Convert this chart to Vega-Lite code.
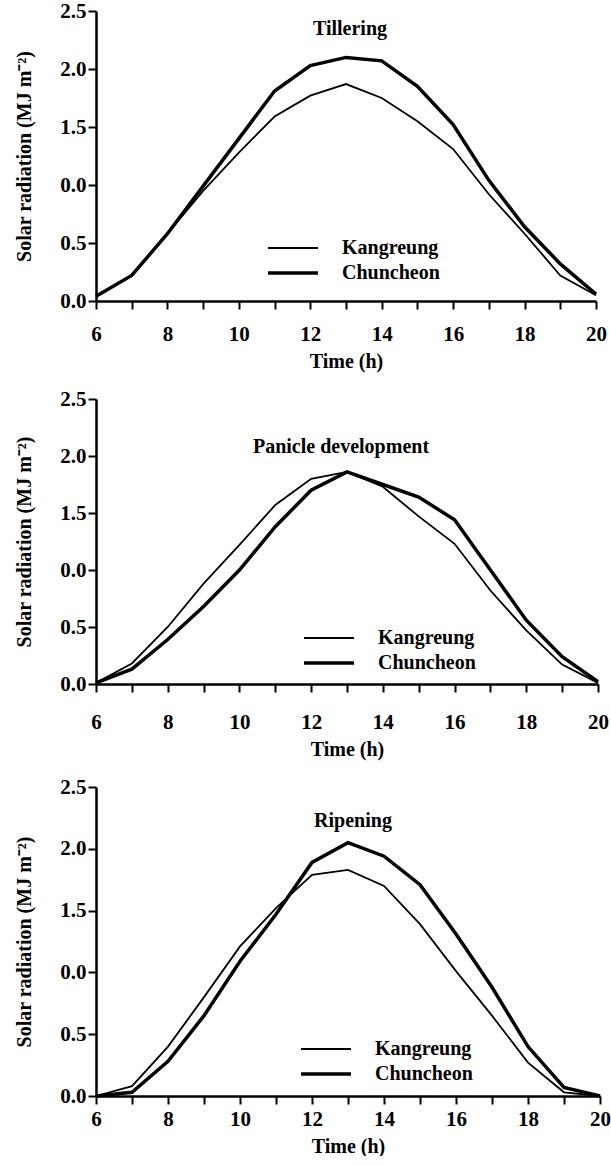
{
  "$schema": "https://vega.github.io/schema/vega-lite/v6.json",
  "background": "white",
  "padding": {"left": 14, "top": 0, "right": 4, "bottom": 0},
  "spacing": 17,
  "resolve": {"scale": {"strokeWidth": "independent"}, "legend": {"strokeWidth": "independent"}},
  "config": {
    "view": {"stroke": null},
    "font": "Liberation Serif",
    "axis": {
      "grid": false,
      "domainColor": "black",
      "domainWidth": 2.5,
      "tickColor": "black",
      "tickWidth": 2,
      "tickSize": 8,
      "labelColor": "black",
      "labelFont": "Liberation Serif",
      "labelFontSize": 21,
      "labelFontWeight": "bold",
      "titleColor": "black",
      "titleFont": "Liberation Serif",
      "titleFontSize": 20,
      "titleFontWeight": "bold",
      "labelFlush": false,
      "labelOverlap": false,
      "labelBound": false
    },
    "axisX": {"titlePadding": 7},
    "axisY": {"labelPadding": 2, "titlePadding": 25},
    "title": {"font": "Liberation Serif", "fontSize": 20, "fontWeight": "bold", "color": "black", "anchor": "middle", "baseline": "top"},
    "legend": {
      "orient": "none",
      "title": null,
      "symbolType": "M-5,0H5",
      "symbolSize": 100,
      "symbolStrokeColor": "black",
      "labelFont": "Liberation Serif",
      "labelFontSize": 20,
      "labelFontWeight": "bold",
      "labelColor": "black",
      "labelOffset": 39,
      "rowPadding": 5,
      "padding": 0
    }
  },
  "datasets": {
    "rad": [
      {"stage": "Tillering", "site": "Kangreung", "time": 6, "value": 0.04},
      {"stage": "Tillering", "site": "Kangreung", "time": 7, "value": 0.22},
      {"stage": "Tillering", "site": "Kangreung", "time": 8, "value": 0.58},
      {"stage": "Tillering", "site": "Kangreung", "time": 9, "value": 0.95},
      {"stage": "Tillering", "site": "Kangreung", "time": 10, "value": 1.28},
      {"stage": "Tillering", "site": "Kangreung", "time": 11, "value": 1.59},
      {"stage": "Tillering", "site": "Kangreung", "time": 12, "value": 1.77},
      {"stage": "Tillering", "site": "Kangreung", "time": 13, "value": 1.87},
      {"stage": "Tillering", "site": "Kangreung", "time": 14, "value": 1.75},
      {"stage": "Tillering", "site": "Kangreung", "time": 15, "value": 1.55},
      {"stage": "Tillering", "site": "Kangreung", "time": 16, "value": 1.31},
      {"stage": "Tillering", "site": "Kangreung", "time": 17, "value": 0.92},
      {"stage": "Tillering", "site": "Kangreung", "time": 18, "value": 0.58},
      {"stage": "Tillering", "site": "Kangreung", "time": 19, "value": 0.22},
      {"stage": "Tillering", "site": "Kangreung", "time": 20, "value": 0.05},
      {"stage": "Tillering", "site": "Chuncheon", "time": 6, "value": 0.04},
      {"stage": "Tillering", "site": "Chuncheon", "time": 7, "value": 0.22},
      {"stage": "Tillering", "site": "Chuncheon", "time": 8, "value": 0.58},
      {"stage": "Tillering", "site": "Chuncheon", "time": 9, "value": 0.99},
      {"stage": "Tillering", "site": "Chuncheon", "time": 10, "value": 1.40},
      {"stage": "Tillering", "site": "Chuncheon", "time": 11, "value": 1.81},
      {"stage": "Tillering", "site": "Chuncheon", "time": 12, "value": 2.03},
      {"stage": "Tillering", "site": "Chuncheon", "time": 13, "value": 2.10},
      {"stage": "Tillering", "site": "Chuncheon", "time": 14, "value": 2.07},
      {"stage": "Tillering", "site": "Chuncheon", "time": 15, "value": 1.85},
      {"stage": "Tillering", "site": "Chuncheon", "time": 16, "value": 1.52},
      {"stage": "Tillering", "site": "Chuncheon", "time": 17, "value": 1.04},
      {"stage": "Tillering", "site": "Chuncheon", "time": 18, "value": 0.64},
      {"stage": "Tillering", "site": "Chuncheon", "time": 19, "value": 0.32},
      {"stage": "Tillering", "site": "Chuncheon", "time": 20, "value": 0.06},
      {"stage": "Panicle development", "site": "Kangreung", "time": 6, "value": 0.01},
      {"stage": "Panicle development", "site": "Kangreung", "time": 7, "value": 0.18},
      {"stage": "Panicle development", "site": "Kangreung", "time": 8, "value": 0.50},
      {"stage": "Panicle development", "site": "Kangreung", "time": 9, "value": 0.88},
      {"stage": "Panicle development", "site": "Kangreung", "time": 10, "value": 1.22},
      {"stage": "Panicle development", "site": "Kangreung", "time": 11, "value": 1.57},
      {"stage": "Panicle development", "site": "Kangreung", "time": 12, "value": 1.80},
      {"stage": "Panicle development", "site": "Kangreung", "time": 13, "value": 1.86},
      {"stage": "Panicle development", "site": "Kangreung", "time": 14, "value": 1.73},
      {"stage": "Panicle development", "site": "Kangreung", "time": 15, "value": 1.47},
      {"stage": "Panicle development", "site": "Kangreung", "time": 16, "value": 1.23},
      {"stage": "Panicle development", "site": "Kangreung", "time": 17, "value": 0.82},
      {"stage": "Panicle development", "site": "Kangreung", "time": 18, "value": 0.47},
      {"stage": "Panicle development", "site": "Kangreung", "time": 19, "value": 0.17},
      {"stage": "Panicle development", "site": "Kangreung", "time": 20, "value": 0.01},
      {"stage": "Panicle development", "site": "Chuncheon", "time": 6, "value": 0.01},
      {"stage": "Panicle development", "site": "Chuncheon", "time": 7, "value": 0.13},
      {"stage": "Panicle development", "site": "Chuncheon", "time": 8, "value": 0.39},
      {"stage": "Panicle development", "site": "Chuncheon", "time": 9, "value": 0.68},
      {"stage": "Panicle development", "site": "Chuncheon", "time": 10, "value": 1.00},
      {"stage": "Panicle development", "site": "Chuncheon", "time": 11, "value": 1.38},
      {"stage": "Panicle development", "site": "Chuncheon", "time": 12, "value": 1.70},
      {"stage": "Panicle development", "site": "Chuncheon", "time": 13, "value": 1.86},
      {"stage": "Panicle development", "site": "Chuncheon", "time": 14, "value": 1.75},
      {"stage": "Panicle development", "site": "Chuncheon", "time": 15, "value": 1.64},
      {"stage": "Panicle development", "site": "Chuncheon", "time": 16, "value": 1.44},
      {"stage": "Panicle development", "site": "Chuncheon", "time": 17, "value": 1.00},
      {"stage": "Panicle development", "site": "Chuncheon", "time": 18, "value": 0.56},
      {"stage": "Panicle development", "site": "Chuncheon", "time": 19, "value": 0.24},
      {"stage": "Panicle development", "site": "Chuncheon", "time": 20, "value": 0.02},
      {"stage": "Ripening", "site": "Kangreung", "time": 6, "value": 0.0},
      {"stage": "Ripening", "site": "Kangreung", "time": 7, "value": 0.08},
      {"stage": "Ripening", "site": "Kangreung", "time": 8, "value": 0.40},
      {"stage": "Ripening", "site": "Kangreung", "time": 9, "value": 0.80},
      {"stage": "Ripening", "site": "Kangreung", "time": 10, "value": 1.21},
      {"stage": "Ripening", "site": "Kangreung", "time": 11, "value": 1.52},
      {"stage": "Ripening", "site": "Kangreung", "time": 12, "value": 1.79},
      {"stage": "Ripening", "site": "Kangreung", "time": 13, "value": 1.83},
      {"stage": "Ripening", "site": "Kangreung", "time": 14, "value": 1.70},
      {"stage": "Ripening", "site": "Kangreung", "time": 15, "value": 1.39},
      {"stage": "Ripening", "site": "Kangreung", "time": 16, "value": 1.01},
      {"stage": "Ripening", "site": "Kangreung", "time": 17, "value": 0.65},
      {"stage": "Ripening", "site": "Kangreung", "time": 18, "value": 0.27},
      {"stage": "Ripening", "site": "Kangreung", "time": 19, "value": 0.03},
      {"stage": "Ripening", "site": "Kangreung", "time": 20, "value": 0.0},
      {"stage": "Ripening", "site": "Chuncheon", "time": 6, "value": 0.0},
      {"stage": "Ripening", "site": "Chuncheon", "time": 7, "value": 0.03},
      {"stage": "Ripening", "site": "Chuncheon", "time": 8, "value": 0.28},
      {"stage": "Ripening", "site": "Chuncheon", "time": 9, "value": 0.65},
      {"stage": "Ripening", "site": "Chuncheon", "time": 10, "value": 1.09},
      {"stage": "Ripening", "site": "Chuncheon", "time": 11, "value": 1.47},
      {"stage": "Ripening", "site": "Chuncheon", "time": 12, "value": 1.89},
      {"stage": "Ripening", "site": "Chuncheon", "time": 13, "value": 2.05},
      {"stage": "Ripening", "site": "Chuncheon", "time": 14, "value": 1.94},
      {"stage": "Ripening", "site": "Chuncheon", "time": 15, "value": 1.71},
      {"stage": "Ripening", "site": "Chuncheon", "time": 16, "value": 1.31},
      {"stage": "Ripening", "site": "Chuncheon", "time": 17, "value": 0.88},
      {"stage": "Ripening", "site": "Chuncheon", "time": 18, "value": 0.40},
      {"stage": "Ripening", "site": "Chuncheon", "time": 19, "value": 0.07},
      {"stage": "Ripening", "site": "Chuncheon", "time": 20, "value": 0.0}
    ]
  },
  "vconcat": [
    {
      "width": 500,
      "height": 290,
      "title": {"text": "Tillering", "offset": -39, "dx": 4},
      "data": {"name": "rad"},
      "transform": [{"filter": "datum.stage == 'Tillering'"}],
      "mark": {"type": "line", "color": "black"},
      "encoding": {
        "x": {"field": "time", "type": "quantitative", "scale": {"domain": [6, 20], "nice": false, "zero": false},
              "axis": {"title": "Time (h)", "values": [6,7,8,9,10,11,12,13,14,15,16,17,18,19,20], "labelExpr": "datum.value % 2 == 0 ? datum.label : ''", "labelPadding": 14}},
        "y": {"field": "value", "type": "quantitative", "scale": {"domain": [0, 2.5], "nice": false},
              "axis": {"title": "Solar radiation (MJ m⁻²)", "values": [0, 0.5, 1, 1.5, 2, 2.5], "labelExpr": "datum.value == 1 ? '0.0' : format(datum.value, '.1f')"}},
        "strokeWidth": {"field": "site", "type": "nominal", "scale": {"domain": ["Kangreung", "Chuncheon"], "range": [1.8, 3.5]},
                        "legend": {"legendX": 187, "legendY": 227}}
      }
    },
    {
      "width": 502,
      "height": 285,
      "title": {"text": "Panicle development", "offset": -69, "dx": -6},
      "data": {"name": "rad"},
      "transform": [{"filter": "datum.stage == 'Panicle development'"}],
      "mark": {"type": "line", "color": "black"},
      "encoding": {
        "x": {"field": "time", "type": "quantitative", "scale": {"domain": [6, 20], "nice": false, "zero": false},
              "axis": {"title": "Time (h)", "values": [6,7,8,9,10,11,12,13,14,15,16,17,18,19,20], "labelExpr": "datum.value % 2 == 0 ? datum.label : ''", "labelPadding": 19}},
        "y": {"field": "value", "type": "quantitative", "scale": {"domain": [0, 2.5], "nice": false},
              "axis": {"title": "Solar radiation (MJ m⁻²)", "values": [0, 0.5, 1, 1.5, 2, 2.5], "labelExpr": "datum.value == 1 ? '0.0' : format(datum.value, '.1f')"}},
        "strokeWidth": {"field": "site", "type": "nominal", "scale": {"domain": ["Kangreung", "Chuncheon"], "range": [1.8, 3.5]},
                        "legend": {"legendX": 223, "legendY": 229}}
      }
    },
    {
      "width": 504,
      "height": 309,
      "title": {"text": "Ripening", "offset": -55, "dx": 5},
      "data": {"name": "rad"},
      "transform": [{"filter": "datum.stage == 'Ripening'"}],
      "mark": {"type": "line", "color": "black"},
      "encoding": {
        "x": {"field": "time", "type": "quantitative", "scale": {"domain": [6, 20], "nice": false, "zero": false},
              "axis": {"title": "Time (h)", "values": [6,7,8,9,10,11,12,13,14,15,16,17,18,19,20], "labelExpr": "datum.value % 2 == 0 ? datum.label : ''", "labelPadding": 4}},
        "y": {"field": "value", "type": "quantitative", "scale": {"domain": [0, 2.5], "nice": false},
              "axis": {"title": "Solar radiation (MJ m⁻²)", "values": [0, 0.5, 1, 1.5, 2, 2.5], "labelExpr": "datum.value == 1 ? '0.0' : format(datum.value, '.1f')"}},
        "strokeWidth": {"field": "site", "type": "nominal", "scale": {"domain": ["Kangreung", "Chuncheon"], "range": [1.8, 3.5]},
                        "legend": {"legendX": 220, "legendY": 252}}
      }
    }
  ]
}
